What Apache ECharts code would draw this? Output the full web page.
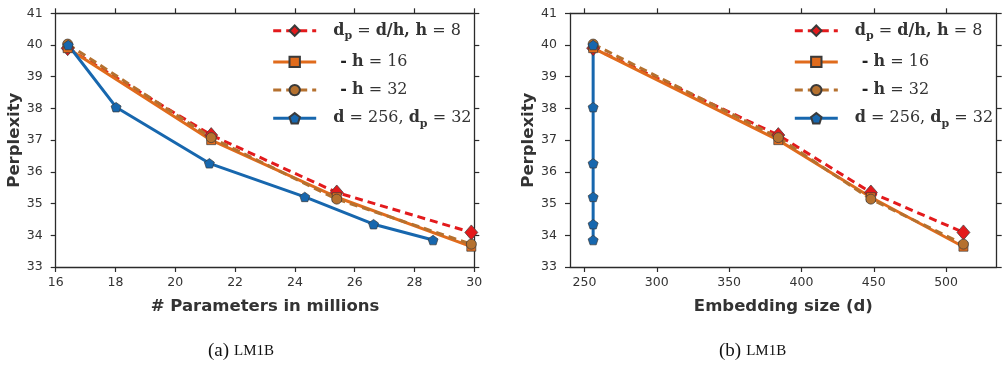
<!DOCTYPE html>
<html><head><meta charset="utf-8">
<script src="https://cdn.jsdelivr.net/npm/echarts@6/dist/echarts.min.js"></script>
<style>html,body{margin:0;padding:0;background:#fff}#c{width:1004px;height:367px}</style>
</head><body><div id="c"></div>
<script>
// ---- data ----
const paramsMillions = [16.4, 21.2, 25.4, 29.9];
const embeddingSize = [256, 384, 448, 512];
const pplH8 = [39.9, 37.16, 35.35, 34.09];
const pplH16 = [39.9, 37.0, 35.2, 33.64];
const pplH32 = [40.03, 37.08, 35.14, 33.72];
const paramsD256 = [16.42, 18.02, 21.14, 24.33, 26.63, 28.62];
const embD256 = [256, 256, 256, 256, 256, 256];
const pplD256 = [40.0, 38.04, 36.27, 35.21, 34.35, 33.85];
const xTicksEmb = [250, 300, 350, 400, 450, 500];
const seriesNames = ['h8', 'h16', 'h32', 'd256'];
const legendLabels = {
  h8: '{pad|}{b|d}{s|p}{n| = }{b|d/h, h}{n| = 8}',
  h16: '{pad|}{pad2|}{dash|-}{n| }{b|h}{n| = 16}',
  h32: '{pad|}{pad2|}{dash|-}{n| }{b|h}{n| = 32}',
  d256: '{pad|}{b|d}{n| = 256, }{b|d}{s|p}{n| = 32}'
};
const xNameLeft = '# Parameters in millions';
const xNameRight = 'Embedding size (d)';
const yName = 'Perplexity';

// ---- style ----
const C = { red: '#e31a1c', orange: '#e06b1c', brown: '#b5712f', blue: '#1767ae' };
const pentagon = 'path://M50 0 L97.55 34.55 L79.39 90.45 L20.61 90.45 L2.45 34.55 Z';
const frame = '#2b2b2b';
const tickFont = { fontFamily: 'DejaVu Sans', fontSize: 12.5, color: '#333' };
const nameFont = { fontFamily: 'DejaVu Sans', fontSize: 16.5, fontWeight: 'bold', color: '#333' };

function zip(xs, ys) { return xs.map((x, i) => [x, ys[i]]); }

const styles = {
  h8: { color: C.red, type: [8, 5], symbol: 'diamond', size: [13, 15] },
  h16: { color: C.orange, type: 'solid', symbol: 'rect', size: 9 },
  h32: { color: C.brown, type: [8, 5], symbol: 'circle', size: 10 },
  d256: { color: C.blue, type: 'solid', symbol: pentagon, size: 10 }
};

function mk(name, xs, ys, xi, yi) {
  const s = styles[name];
  return {
    name, type: 'line', xAxisIndex: xi, yAxisIndex: yi,
    data: zip(xs, ys), symbol: s.symbol, symbolSize: s.size, symbolKeepAspect: true,
    showSymbol: true, clip: false,
    lineStyle: { color: s.color, width: 3, type: s.type },
    itemStyle: { color: s.color, borderColor: '#3a3a3a', borderWidth: 0.7 },
    emphasis: { disabled: true }
  };
}

const grids = [
  { left: 55.7, top: 13.3, width: 418.6, height: 253.7 },
  { left: 570, top: 13.3, width: 426.7, height: 253.7 }
];

function xAxisBase(gi, pos, min, max, show) {
  return {
    type: 'value', gridIndex: gi, position: pos, min, max,
    axisLine: { show: true, onZero: false, lineStyle: { color: frame, width: 1.3 } },
    axisTick: { show: true, inside: false, length: 5, lineStyle: { color: frame, width: 1.2 } },
    splitLine: { show: false },
    axisLabel: Object.assign({ show, margin: 9 }, tickFont)
  };
}
const xAxes = [
  Object.assign(xAxisBase(0, 'bottom', 16, 30, true), { interval: 2, name: xNameLeft, nameLocation: 'middle', nameGap: 31, nameTextStyle: nameFont }),
  Object.assign(xAxisBase(1, 'bottom', 240, 535, true), { name: xNameRight, nameLocation: 'middle', nameGap: 31, nameTextStyle: nameFont }),
  Object.assign(xAxisBase(0, 'top', 16, 30, false), { interval: 2 }),
  Object.assign(xAxisBase(1, 'top', 240, 535, false), {})
];
xAxes[1].axisLabel.customValues = xTicksEmb;
xAxes[1].axisTick.customValues = xTicksEmb;
xAxes[3].axisLabel.customValues = xTicksEmb;
xAxes[3].axisTick.customValues = xTicksEmb;

function yAxisBase(gi, pos, show) {
  return {
    type: 'value', gridIndex: gi, position: pos, min: 33, max: 41, interval: 1,
    axisLine: { show: true, onZero: false, lineStyle: { color: frame, width: 1.3 } },
    axisTick: { show: true, inside: false, length: 5, lineStyle: { color: frame, width: 1.2 } },
    splitLine: { show: false },
    axisLabel: Object.assign({ show, margin: 13 }, tickFont)
  };
}
const yAxes = [
  Object.assign(yAxisBase(0, 'left', true), { name: yName, nameLocation: 'middle', nameGap: 31, nameTextStyle: nameFont }),
  Object.assign(yAxisBase(1, 'left', true), { name: yName, nameLocation: 'middle', nameGap: 31, nameTextStyle: nameFont }),
  yAxisBase(0, 'right', false),
  yAxisBase(1, 'right', false)
];

const rich = {
  pad: { width: 12, lineHeight: 22 },
  pad2: { width: 7, lineHeight: 22 },
  b: { fontFamily: 'DejaVu Serif', fontWeight: 'bold', fontSize: 16, color: '#333', lineHeight: 22 },
  n: { fontFamily: 'DejaVu Serif', fontWeight: 'normal', fontSize: 16, color: '#333', lineHeight: 22 },
  s: { fontFamily: 'DejaVu Serif', fontWeight: 'bold', fontSize: 11, color: '#333', lineHeight: 13, verticalAlign: 'bottom' },
  dash: { fontFamily: 'DejaVu Sans', fontWeight: 'bold', fontSize: 16, color: '#222', lineHeight: 22 }
};
function legend(left) {
  return {
    data: seriesNames, orient: 'vertical', left, top: 22.7, padding: 0,
    itemWidth: 43, itemHeight: 13, itemGap: 12.2, selectedMode: false,
    formatter: (n) => legendLabels[n],
    lineStyle: { width: 3 },
    textStyle: { rich }
  };
}

const capRich = {
  a: { fontFamily: 'Liberation Serif', fontSize: 19, fontWeight: 'normal', color: '#111' },
  b: { fontFamily: 'Liberation Serif', fontSize: 15, fontWeight: 'normal', color: '#111' }
};

const option = {
  animation: false,
  backgroundColor: '#fff',
  grid: grids,
  xAxis: xAxes,
  yAxis: yAxes,
  legend: [legend(271.7), legend(793.3)],
  title: [
    { text: '{a|(a)} {b|LM1B}', left: 208, top: 342, padding: 0, textStyle: { fontWeight: 'normal', rich: capRich } },
    { text: '{a|(b)} {b|LM1B}', left: 719, top: 342, padding: 0, textStyle: { fontWeight: 'normal', rich: capRich } }
  ],
  series: [
    mk('h8', paramsMillions, pplH8, 0, 0),
    mk('h16', paramsMillions, pplH16, 0, 0),
    mk('h32', paramsMillions, pplH32, 0, 0),
    mk('d256', paramsD256, pplD256, 0, 0),
    mk('h8', embeddingSize, pplH8, 1, 1),
    mk('h16', embeddingSize, pplH16, 1, 1),
    mk('h32', embeddingSize, pplH32, 1, 1),
    mk('d256', embD256, pplD256, 1, 1)
  ]
};
const chart = echarts.init(document.getElementById('c'), null, { renderer: 'canvas' });
chart.setOption(option);
</script></body></html>
